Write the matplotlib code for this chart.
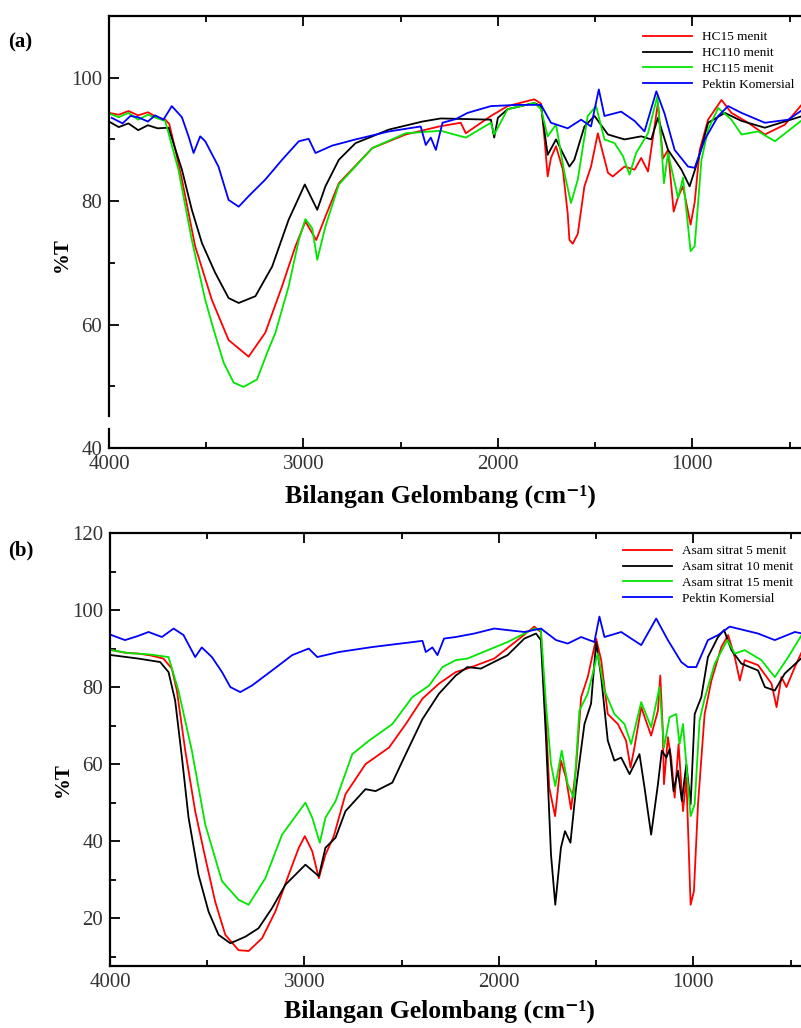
import matplotlib
matplotlib.use("Agg")
import matplotlib.pyplot as plt
from matplotlib.ticker import MultipleLocator, FixedLocator
from matplotlib.lines import Line2D

plt.rcParams['font.family'] = ['Liberation Serif', 'DejaVu Serif']

# ---------------- Panel (a) data ----------------
a_labels = ["HC15 menit", "HC110 menit", "HC115 menit", "Pektin Komersial"]

a_red_wn = [4000, 3950, 3900, 3850, 3800, 3760, 3711, 3690, 3660, 3625, 3557, 3471, 3385, 3282, 3196, 3110, 3041, 2990, 2934, 2887, 2818, 2646, 2474, 2302,
            2191, 2165, 2036, 1950, 1813, 1778, 1760, 1744, 1727, 1701, 1666, 1641, 1632, 1615, 1589, 1555, 1521, 1486, 1434, 1409, 1349, 1297, 1263, 1228,
            1177, 1151, 1125, 1096, 1073, 1048, 1009, 988, 962, 919, 850, 799, 713, 627, 524, 433]
a_red_t = [94.3, 94.0, 94.6, 93.9, 94.4, 93.7, 93.2, 92.5, 88.5, 83.5, 72.7, 64.0, 57.5, 54.8, 58.7, 66.2, 72.7, 76.7, 73.7, 77.5, 82.9, 88.6, 90.8, 92.1,
           92.7, 91.0, 93.8, 95.4, 96.5, 95.8, 90.0, 84.0, 87.0, 88.9, 85.1, 78.0, 73.7, 73.1, 74.7, 82.4, 85.6, 91.0, 84.6, 84.0, 85.6, 85.1, 87.0, 84.8,
           95.9, 86.9, 88.3, 78.3, 80.7, 82.4, 76.2, 79.8, 88.3, 93.2, 96.4, 94.3, 92.7, 90.8, 92.4, 95.8]

a_blk_wn = [4000, 3950, 3900, 3850, 3800, 3750, 3694, 3625, 3574, 3522, 3454, 3385, 3333, 3247, 3161, 3076, 2993, 2929, 2887, 2818, 2732, 2560, 2388, 2294,
            2036, 2019, 2000, 1950, 1813, 1778, 1744, 1701, 1632, 1607, 1555, 1503, 1434, 1349, 1263, 1211, 1177, 1125, 1056, 1014, 970, 919, 833, 747, 627, 433]
a_blk_t = [92.9, 92.0, 92.6, 91.5, 92.3, 91.8, 91.9, 85.1, 78.6, 73.2, 68.4, 64.3, 63.5, 64.6, 69.4, 77.0, 82.7, 78.6, 82.4, 86.7, 89.4, 91.6, 92.9, 93.4,
           93.2, 90.3, 93.5, 94.9, 95.9, 95.4, 87.5, 90.0, 85.6, 86.7, 92.1, 93.8, 90.8, 90.0, 90.5, 90.0, 93.5, 88.3, 85.1, 82.4, 86.7, 92.7, 94.3, 93.0, 91.9, 93.8]

a_grn_wn = [4000, 3950, 3900, 3850, 3800, 3750, 3711, 3643, 3574, 3505, 3462, 3410, 3359, 3308, 3239, 3187, 3144, 3076, 3024, 2990, 2955, 2929, 2887, 2818,
            2646, 2474, 2294, 2165, 2036, 2019, 1950, 1813, 1778, 1744, 1701, 1658, 1624, 1589, 1538, 1495, 1452, 1400, 1357, 1323, 1289, 1228, 1180, 1160,
            1146, 1125, 1073, 1048, 1009, 988, 953, 919, 867, 799, 747, 661, 575, 433]
a_grn_t = [94.2, 93.6, 94.3, 93.2, 94.0, 93.4, 93.0, 85.1, 73.7, 64.0, 59.2, 53.8, 50.6, 49.9, 51.1, 55.4, 58.7, 66.2, 73.7, 77.1, 75.6, 70.5, 75.9, 82.7,
           88.6, 91.0, 91.4, 90.3, 92.7, 90.8, 94.9, 95.9, 94.9, 90.5, 92.4, 84.6, 79.7, 83.5, 93.8, 95.4, 90.0, 89.4, 87.3, 84.3, 87.8, 91.0, 97.0, 89.4,
           82.9, 87.8, 80.5, 83.8, 71.9, 72.7, 86.7, 91.6, 95.1, 93.2, 90.8, 91.3, 89.7, 93.2]

a_blu_wn = [3986, 3930, 3890, 3851, 3800, 3763, 3720, 3677, 3625, 3591, 3565, 3531, 3505, 3437, 3385, 3333, 3282, 3196, 3110, 3024, 2973, 2938, 2852, 2732,
            2560, 2397, 2371, 2345, 2319, 2285, 2216, 2156, 2036, 1898, 1778, 1727, 1641, 1572, 1521, 1481, 1452, 1366, 1297, 1246, 1185, 1143, 1091, 1022,
            988, 936, 867, 816, 747, 627, 507, 433]
a_blu_t = [93.5, 92.6, 93.8, 93.6, 92.9, 93.9, 93.2, 95.4, 93.6, 90.5, 87.8, 90.5, 89.7, 85.6, 80.2, 79.1, 80.8, 83.5, 86.7, 89.7, 90.1, 87.8, 89.0, 90.0,
           91.3, 92.1, 89.1, 90.3, 88.3, 92.7, 93.3, 94.3, 95.4, 95.6, 95.6, 92.7, 91.8, 93.2, 92.1, 98.1, 93.8, 94.5, 93.0, 91.3, 97.8, 94.2, 88.3, 85.6,
           85.4, 90.0, 93.8, 95.4, 94.3, 92.7, 93.2, 94.8]

# ---------------- Panel (b) data ----------------
b_labels = ["Asam sitrat 5 menit", "Asam sitrat 10 menit", "Asam sitrat 15 menit", "Pektin Komersial"]

b_red_wn = [3992, 3920, 3854, 3790, 3725, 3682, 3656, 3613, 3562, 3510, 3459, 3407, 3339, 3287, 3218, 3150, 3081, 3029, 2998, 2960, 2926, 2892, 2849, 2789,
            2686, 2565, 2479, 2393, 2308, 2222, 2162, 2024, 1904, 1818, 1784, 1758, 1741, 1711, 1681, 1655, 1629, 1603, 1577, 1543, 1500, 1474, 1440, 1388,
            1346, 1323, 1303, 1268, 1217, 1182, 1170, 1157, 1151, 1131, 1114, 1096, 1076, 1053, 1036, 1014, 997, 976, 942, 907, 856, 821, 787, 761, 736,
            667, 598, 572, 547, 521, 478, 438]
b_red_t = [89.6, 88.9, 88.7, 88.2, 87.4, 84.8, 79.1, 63.5, 47.8, 35.7, 24.3, 15.7, 11.7, 11.5, 14.8, 21.7, 31.3, 38.3, 41.3, 37.4, 30.4, 36.5, 41.3, 52.2,
           60.0, 64.3, 70.4, 77.0, 80.9, 83.9, 84.8, 87.4, 92.2, 95.7, 94.3, 71.3, 53.9, 46.5, 60.9, 56.5, 48.3, 59.1, 77.4, 82.6, 92.6, 87.0, 73.0, 70.4,
           66.1, 59.1, 64.3, 74.8, 67.4, 73.9, 83.0, 68.7, 54.8, 67.0, 61.7, 51.3, 65.2, 47.8, 56.5, 23.5, 27.0, 49.6, 73.0, 81.7, 90.4, 93.5, 87.8, 81.7, 87.0,
           85.7, 80.9, 74.8, 82.6, 80.0, 85.2, 89.6]

b_blk_wn = [3992, 3854, 3742, 3699, 3665, 3630, 3596, 3545, 3493, 3442, 3381, 3304, 3236, 3167, 3098, 2995, 2926, 2892, 2840, 2789, 2686, 2634, 2548, 2479,
            2393, 2308, 2222, 2162, 2093, 1955, 1869, 1809, 1784, 1758, 1732, 1710, 1681, 1660, 1632, 1603, 1560, 1526, 1500, 1474, 1440, 1406, 1371, 1328,
            1277, 1251, 1217, 1182, 1162, 1139, 1122, 1102, 1079, 1059, 1036, 1014, 993, 959, 925, 873, 842, 804, 753, 667, 632, 581, 530, 438]
b_blk_t = [88.3, 87.4, 86.5, 83.9, 76.5, 61.7, 46.1, 31.3, 21.7, 15.7, 13.5, 15.2, 17.4, 22.6, 28.7, 33.9, 30.9, 38.3, 40.9, 47.8, 53.5, 53.0, 55.2, 62.6,
           71.7, 78.3, 83.0, 85.2, 84.8, 88.3, 92.6, 93.9, 92.2, 67.0, 36.5, 23.5, 38.3, 42.6, 39.6, 53.9, 70.4, 75.7, 91.7, 82.6, 66.1, 60.9, 61.7, 57.4,
           62.6, 53.9, 41.7, 54.8, 63.5, 61.7, 63.9, 53.0, 58.3, 50.4, 60.0, 49.6, 73.0, 77.4, 87.8, 93.0, 94.8, 89.6, 86.1, 84.3, 80.0, 79.1, 83.5, 87.8]

b_grn_wn = [3992, 3900, 3800, 3699, 3648, 3579, 3510, 3424, 3339, 3287, 3201, 3115, 2995, 2960, 2921, 2892, 2840, 2754, 2668, 2548, 2445, 2359, 2290, 2222,
            2162, 1955, 1818, 1784, 1758, 1732, 1710, 1677, 1646, 1615, 1586, 1543, 1492, 1457, 1406, 1354, 1320, 1268, 1217, 1174, 1151, 1122, 1088, 1071,
            1053, 1036, 1014, 993, 968, 942, 890, 825, 787, 736, 650, 581, 512, 438]
b_grn_t = [89.6, 88.8, 88.5, 87.8, 79.1, 63.5, 44.3, 29.6, 24.8, 23.5, 30.4, 41.7, 50.0, 46.1, 39.6, 46.1, 50.4, 62.6, 66.1, 70.4, 77.4, 80.4, 85.2, 87.0,
           87.4, 91.7, 95.2, 94.8, 75.7, 60.0, 54.3, 63.5, 54.8, 51.3, 73.9, 78.3, 88.7, 79.1, 73.0, 70.4, 65.2, 76.1, 69.6, 80.0, 64.3, 72.2, 73.0, 65.2,
           70.4, 60.0, 46.5, 49.6, 71.3, 77.0, 86.1, 92.2, 88.7, 89.6, 87.0, 82.6, 87.8, 93.9]

b_blu_wn = [3992, 3923, 3860, 3802, 3733, 3673, 3622, 3562, 3528, 3476, 3424, 3381, 3330, 3270, 3167, 3063, 2978, 2934, 2823, 2651, 2393, 2376, 2342, 2316,
            2282, 2222, 2127, 2024, 1869, 1784, 1706, 1646, 1577, 1509, 1483, 1457, 1371, 1268, 1191, 1131, 1062, 1028, 985, 925, 873, 813, 667, 581, 478, 438]
b_blu_t = [93.5, 92.2, 93.2, 94.3, 93.0, 95.2, 93.5, 87.8, 90.3, 87.8, 83.9, 80.0, 78.7, 80.4, 84.3, 88.3, 90.0, 87.8, 89.1, 90.4, 92.0, 89.1, 90.3, 88.3,
           92.6, 93.0, 93.9, 95.2, 94.3, 95.2, 92.2, 91.3, 93.0, 91.7, 98.3, 93.0, 94.3, 90.9, 97.8, 92.2, 86.5, 85.2, 85.2, 92.2, 93.5, 95.7, 93.9, 92.2, 94.3, 93.9]

colors = ["#ff0000", "#000000", "#00e600", "#0000ff"]

W, H = 801, 1028
fig = plt.figure(figsize=(W / 100, H / 100), dpi=100)


def fx(px):
    return px / W


def fy(py):
    return 1 - py / H


def setup(ax, ylim):
    ax.set_xlim(4000, 400)
    ax.set_ylim(*ylim)
    ax.xaxis.set_major_locator(FixedLocator([4000, 3000, 2000, 1000]))
    ax.xaxis.set_minor_locator(MultipleLocator(500))
    ax.tick_params(which='both', direction='in', top=True, right=False, width=1.3,
                   labelsize=15, labelcolor='#333333')
    ax.tick_params(which='major', length=7, pad=5)
    ax.tick_params(which='minor', length=4)
    for s in ['left', 'bottom', 'top']:
        ax.spines[s].set_linewidth(1.6)
    ax.spines['right'].set_visible(False)
    ax.set_xlabel("Bilangan Gelombang (cm\u207b\u00b9)", fontsize=18.5, fontweight='bold')
    ax.set_ylabel("%T", fontsize=15, fontweight='bold')


# Panel (a)
axa = fig.add_axes([fx(109), fy(448), fx(809 - 109), fy(16) - fy(448)])
setup(axa, (40, 110))
axa.yaxis.set_major_locator(FixedLocator([40, 60, 80, 100]))
axa.yaxis.set_minor_locator(FixedLocator([50, 70, 90]))
for wn, t, c, lab in zip([a_red_wn, a_blk_wn, a_grn_wn, a_blu_wn],
                         [a_red_t, a_blk_t, a_grn_t, a_blu_t], colors, a_labels):
    axa.plot(wn, t, color=c, lw=1.3, label=lab)
# broken left spine
axa.spines['left'].set_visible(False)
for y0, y1 in [(40, 43.1), (45.2, 110)]:
    axa.add_line(Line2D([0, 0], [y0, y1], transform=axa.get_yaxis_transform(),
                        color='black', lw=1.6, clip_on=False))
axa.xaxis.set_label_coords(0.473, -0.085)
axa.yaxis.set_label_coords(-0.053, 0.447)
axa.legend(loc='upper left', bbox_to_anchor=(fx(643), fy(31)), bbox_transform=fig.transFigure,
           frameon=False, fontsize=9.5, handlelength=3.7, handletextpad=0.8,
           labelspacing=0.28, borderpad=0, borderaxespad=0)

# Panel (b)
axb = fig.add_axes([fx(110), fy(966), fx(810 - 110), fy(533) - fy(966)])
setup(axb, (7.6, 120))
axb.yaxis.set_major_locator(FixedLocator([20, 40, 60, 80, 100, 120]))
axb.yaxis.set_minor_locator(FixedLocator([10, 30, 50, 70, 90, 110]))
for wn, t, c, lab in zip([b_red_wn, b_blk_wn, b_grn_wn, b_blu_wn],
                         [b_red_t, b_blk_t, b_grn_t, b_blu_t], colors, b_labels):
    axb.plot(wn, t, color=c, lw=1.3, label=lab)
axb.xaxis.set_label_coords(0.47, -0.077)
axb.yaxis.set_label_coords(-0.053, 0.43)
axb.legend(loc='upper left', bbox_to_anchor=(fx(623), fy(545)), bbox_transform=fig.transFigure,
           frameon=False, fontsize=9.5, handlelength=3.7, handletextpad=0.8,
           labelspacing=0.28, borderpad=0, borderaxespad=0)

fig.text(fx(8), fy(42), "(a)", fontsize=15, fontweight='bold', va='center', ha='left')
fig.text(fx(8), fy(550), "(b)", fontsize=15, fontweight='bold', va='center', ha='left')

fig.savefig("out.png", dpi=100)
